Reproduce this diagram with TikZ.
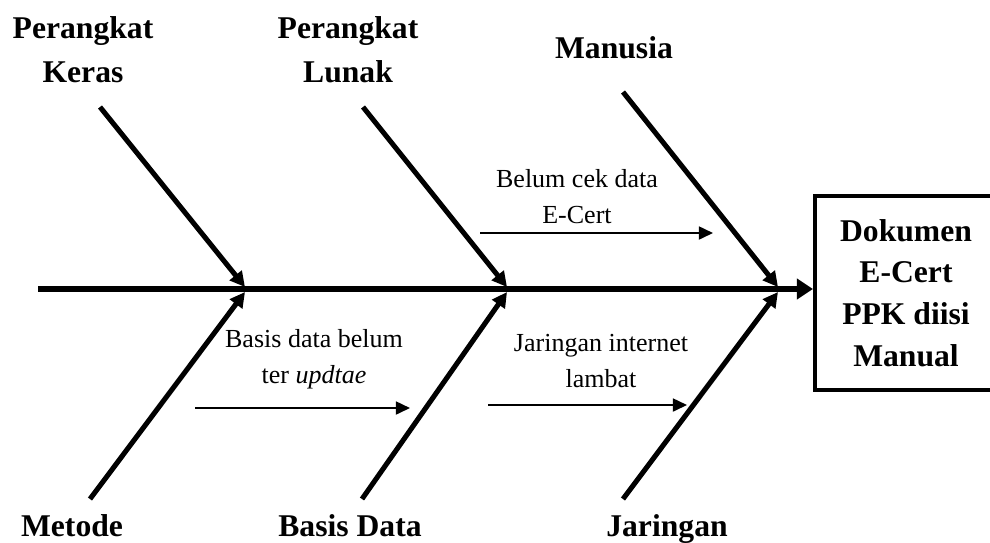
\documentclass[tikz,border=0pt]{standalone}
\usepackage{fontspec}
\setmainfont{Liberation Serif}
\usetikzlibrary{arrows.meta, positioning}
\tikzset{
    causelabel/.style={font=\fontsize{22.5}{31.3}\selectfont\bfseries, align=center, inner sep=0pt},
    notetext/.style={font=\fontsize{18.5}{25.6}\selectfont, align=center, inner sep=0pt},
    effectbox/.style={rectangle, draw, line width=2.85pt, minimum width=4.55cm, minimum height=4.84cm,
                      align=center, inner sep=0pt, font=\fontsize{22.5}{29.7}\selectfont\bfseries},
    spine/.style={-{Triangle[length=11.4pt, width=14.2pt]}, line width=3.6pt},
    bone/.style={-{Triangle[length=10.7pt, width=10.7pt]}, line width=3.6pt},
    notearrow/.style={-{Triangle[length=10pt, width=9.2pt]}, line width=1.4pt},
}

\begin{document}
\begin{tikzpicture}[x=0.025cm, y=-0.025cm]
    \useasboundingbox (0,0) rectangle (990,542);

    % effect and main spine
    \node[effectbox] (effect) at (906,293) {Dokumen\\E-Cert\\PPK diisi\\Manual};
    \coordinate (tail) at (38,289);
    \draw[spine] (tail) -- (tail -| effect.west);

    % cause categories
    \node[causelabel, anchor=north] (hardware) at (83,16.5) {Perangkat\\Keras};
    \node[causelabel, anchor=north] (software) at (348,16.5) {Perangkat\\Lunak};
    \node[causelabel, anchor=base] (people) at (614,58) {Manusia};
    \node[causelabel, anchor=base] (method) at (72,536) {Metode};
    \node[causelabel, anchor=base] (database) at (350,536) {Basis Data};
    \node[causelabel, anchor=base] (network) at (667,536) {Jaringan};

    % bone ends
    \coordinate (hwtop) at (100,107);
    \coordinate (hwjoin) at (245,287);
    \coordinate (swtop) at (363,107);
    \coordinate (swjoin) at (507,287);
    \coordinate (pptop) at (623,92);
    \coordinate (ppjoin) at (778,287);
    \coordinate (mtbot) at (90,499);
    \coordinate (mtjoin) at (245,292);
    \coordinate (dbbot) at (362,499);
    \coordinate (dbjoin) at (507,292);
    \coordinate (nwbot) at (623,499);
    \coordinate (nwjoin) at (778,292);

    \draw[bone] (hwtop) -- (hwjoin);
    \draw[bone] (swtop) -- (swjoin);
    \draw[bone] (pptop) -- (ppjoin);
    \draw[bone] (mtbot) -- (mtjoin);
    \draw[bone] (dbbot) -- (dbjoin);
    \draw[bone] (nwbot) -- (nwjoin);

    % sub causes
    \node[notetext, anchor=north] (certnote) at (577,169) {Belum cek data\\E-Cert};
    \coordinate (certfrom) at (480,233);
    \coordinate (certto) at (713,233);
    \draw[notearrow] (certfrom) -- (certto);

    \node[notetext, anchor=north] (updatenote) at (314,329) {Basis data belum\\ter \textit{updtae}};
    \coordinate (updatefrom) at (195,408);
    \coordinate (updateto) at (410,408);
    \draw[notearrow] (updatefrom) -- (updateto);

    \node[notetext, anchor=north] (slownote) at (601,334) {Jaringan internet\\lambat};
    \coordinate (slowfrom) at (488,405);
    \coordinate (slowto) at (687,405);
    \draw[notearrow] (slowfrom) -- (slowto);
\end{tikzpicture}
\end{document}
